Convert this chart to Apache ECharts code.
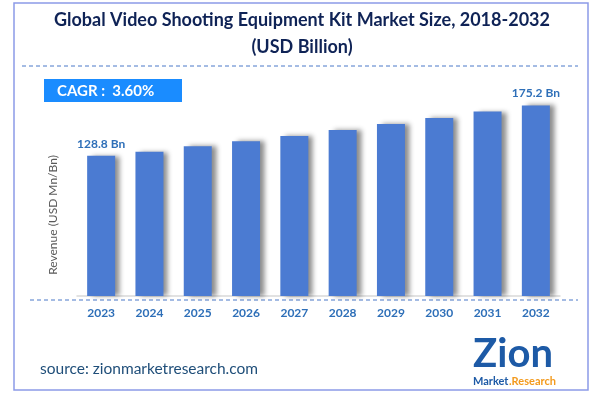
<!DOCTYPE html>
<html>
<head>
<meta charset="utf-8">
<script src="https://cdn.jsdelivr.net/npm/echarts@6/dist/echarts.min.js"></script>
<style>html,body{margin:0;padding:0;background:#fff}#c{width:594px;height:396px}</style>
</head>
<body>
<div id="c"></div>
<script>
const categories = ['2023','2024','2025','2026','2027','2028','2029','2030','2031','2032'];
const revenue = [128.8, 132.5, 137.6, 142.3, 147.0, 152.5, 158.0, 163.5, 169.5, 175.2];
const labelledYears = ['2023', '2032'];
const titleLine1 = 'Global Video Shooting Equipment Kit Market Size, 2018-2032';
const titleLine2 = '(USD Billion)';
const cagrText = 'CAGR :  3.60%';
const yAxisName = 'Revenue (USD Mn/Bn)';
const sourceText = 'source: zionmarketresearch.com';

const chart = echarts.init(document.getElementById('c'), null, {renderer: 'canvas'});
const fontFam = 'Lato, "Open Sans", sans-serif';
chart.setOption({
  animation: false,
  backgroundColor: '#fff',
  grid: {left: 77, right: 34, top: 24, bottom: 100},
  xAxis: {
    type: 'category',
    data: categories,
    axisLine: {show: true, lineStyle: {color: '#d9d9d9', width: 1.5}},
    axisTick: {show: false},
    axisLabel: {color: '#2e6fb8', fontWeight: 'bold', fontSize: 12, fontFamily: fontFam, margin: 11}
  },
  yAxis: {
    type: 'value', min: 0, max: 250,
    show: true,
    axisLine: {show: false}, axisTick: {show: false}, axisLabel: {show: false},
    splitLine: {show: false}
  },
  series: [{
    type: 'bar',
    data: revenue.map((v, i) => ({
      value: v,
      label: {show: labelledYears.includes(categories[i])}
    })),
    barWidth: 28,
    itemStyle: {
      color: '#4b7bd2',
      shadowColor: 'rgba(0,0,0,0.45)', shadowBlur: 5, shadowOffsetX: 5, shadowOffsetY: 0
    },
    label: {
      position: 'top', distance: 6,
      formatter: p => p.value + ' Bn',
      color: '#2e6fb8', fontWeight: 'bold', fontSize: 12, fontFamily: fontFam
    }
  }],
  graphic: [
    {type: 'rect', shape: {x: 14, y: 3, width: 574, height: 387},
     style: {fill: 'none', stroke: '#8c9be8', lineWidth: 1.5}, z: 100},
    {type: 'text', x: 302, y: 20, style: {text: titleLine1, align: 'center', verticalAlign: 'middle',
      font: 'bold 18px ' + fontFam, fill: '#0f2356'}},
    {type: 'text', x: 302, y: 47, style: {text: titleLine2, align: 'center', verticalAlign: 'middle',
      font: 'bold 18px ' + fontFam, fill: '#0f2356'}},
    {type: 'line', shape: {x1: 22, y1: 66, x2: 578, y2: 66},
     style: {stroke: '#4a78c8', lineWidth: 1, lineDash: [4, 3]}},
    {type: 'line', shape: {x1: 30, y1: 300, x2: 578, y2: 300},
     style: {stroke: '#4a78c8', lineWidth: 1, lineDash: [4, 3]}},
    {type: 'text', x: 53, y: 215, rotation: Math.PI / 2,
     style: {text: yAxisName, align: 'center', verticalAlign: 'middle',
      font: '12px ' + fontFam, fill: '#595959'}},
    {type: 'rect', shape: {x: 44, y: 79, width: 138, height: 23}, style: {fill: '#1a8cff'}},
    {type: 'text', x: 57, y: 91, style: {text: cagrText, verticalAlign: 'middle',
      font: 'bold 15px ' + fontFam, fill: '#ffffff'}},
    {type: 'text', x: 40, y: 369, style: {text: sourceText, verticalAlign: 'middle',
      font: '15.5px ' + fontFam, fill: '#1f4e79'}},
    {type: 'text', x: 513, y: 354, style: {text: 'Zion', align: 'center', verticalAlign: 'middle',
      font: 'bold 40px ' + fontFam, fill: '#1d5aa6'}},
    {type: 'text', x: 473, y: 381, style: {text: 'Market', verticalAlign: 'middle',
      font: 'bold 11px ' + fontFam, fill: '#1d5aa6'}},
    {type: 'text', x: 509, y: 381, style: {text: '.Research', verticalAlign: 'middle',
      font: 'bold 11px ' + fontFam, fill: '#f39a1d'}}
  ]
});
</script>
</body>
</html>
